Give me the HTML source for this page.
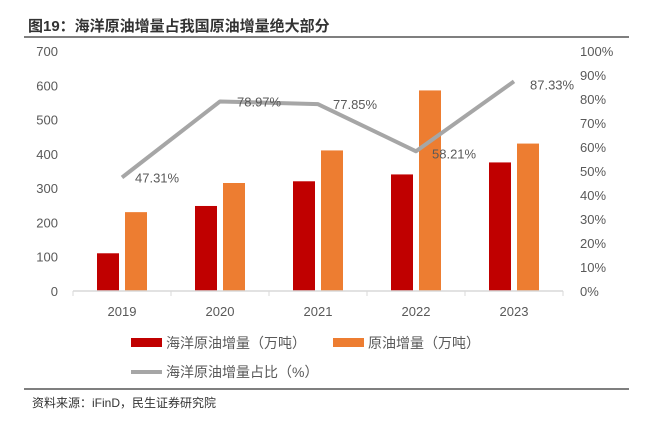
<!DOCTYPE html>
<html><head><meta charset="utf-8"><style>
body{margin:0;background:#fff;}
svg text{font-family:"Liberation Sans","Noto Sans CJK SC",sans-serif;}
</style></head><body>
<svg width="646" height="422" viewBox="0 0 646 422" xmlns="http://www.w3.org/2000/svg">
<text x="28" y="31" font-size="15" font-weight="bold" fill="#333">图19：海洋原油增量占我国原油增量绝大部分</text>
<line x1="24" y1="37" x2="629" y2="37" stroke="#555" stroke-width="1.5"/>
<g id="plot"></g>
<g>
<rect x="131" y="338" width="31" height="9" fill="#c00000"/>
<text x="166" y="348" font-size="14" fill="#595959">海洋原油增量（万吨）</text>
<rect x="333" y="338" width="31" height="9" fill="#ed7d31"/>
<text x="368" y="348" font-size="14" fill="#595959">原油增量（万吨）</text>
<line x1="131" y1="372" x2="162" y2="372" stroke="#a6a6a6" stroke-width="4"/>
<text x="166" y="377" font-size="14" fill="#595959">海洋原油增量占比（%）</text>
</g>
<line x1="24" y1="389" x2="629" y2="389" stroke="#555" stroke-width="1.5"/>
<text x="32" y="407" font-size="12" fill="#333">资料来源：iFinD，民生证券研究院</text>
</svg>
<script>
const categories=["2019","2020","2021","2022","2023"];
const offshore=[110,248,320,340,375];
const total=[230,315,410,585,430];
const share=[47.31,78.97,77.85,58.21,87.33];
const shareLabels=["47.31%","78.97%","77.85%","58.21%","87.33%"];
const leftTicks=[0,100,200,300,400,500,600,700];
const rightTicks=[0,10,20,30,40,50,60,70,80,90,100];

const NS="http://www.w3.org/2000/svg";
const g=document.getElementById('plot');
const X0=73,X1=563,Y0=291,Y1=51;
const band=(X1-X0)/categories.length;
const yL=v=>Y0-(v/700)*(Y0-Y1);
const yR=v=>Y0-(v/100)*(Y0-Y1);
const xc=i=>X0+band*(i+0.5);
function mk(t,a){const e=document.createElementNS(NS,t);for(const k in a)e.setAttribute(k,a[k]);g.appendChild(e);return e;}
leftTicks.forEach(v=>{const t=mk('text',{x:58,y:yL(v)+5,'font-size':13,fill:'#595959','text-anchor':'end'});t.textContent=v;

});
rightTicks.forEach(v=>{const t=mk('text',{x:580,y:yR(v)+5,'font-size':13,fill:'#595959'});t.textContent=v+'%';

});
categories.forEach((c,i)=>{
const r=mk('rect',{x:xc(i)-25,y:yL(offshore[i]),width:22,height:Y0-yL(offshore[i]),fill:'#c00000'});


const o=mk('rect',{x:xc(i)+3,y:yL(total[i]),width:22,height:Y0-yL(total[i]),fill:'#ed7d31'});


const t=mk('text',{x:xc(i),y:316,'font-size':13,fill:'#595959','text-anchor':'middle'});t.textContent=c;


});
const ax=mk('line',{x1:X0,y1:Y0,x2:X1,y2:Y0,stroke:'#d9d9d9','stroke-width':1.5});


for(let i=0;i<=categories.length;i++){const tk=mk('line',{x1:X0+band*i,y1:Y0,x2:X0+band*i,y2:Y0+5,stroke:'#d9d9d9'});

}
const pl=mk('polyline',{points:share.map((v,i)=>xc(i)+','+yR(v)).join(' '),fill:'none',stroke:'#a6a6a6','stroke-width':4,'stroke-linejoin':'round'});


const off=[[13,0],[17,0],[15,0],[16,2],[16,3]];
share.forEach((v,i)=>{const t=mk('text',{x:xc(i)+off[i][0],y:yR(v)+off[i][1]+5,'font-size':13,fill:'#595959'});t.textContent=shareLabels[i];

});
</script>
</body></html>
